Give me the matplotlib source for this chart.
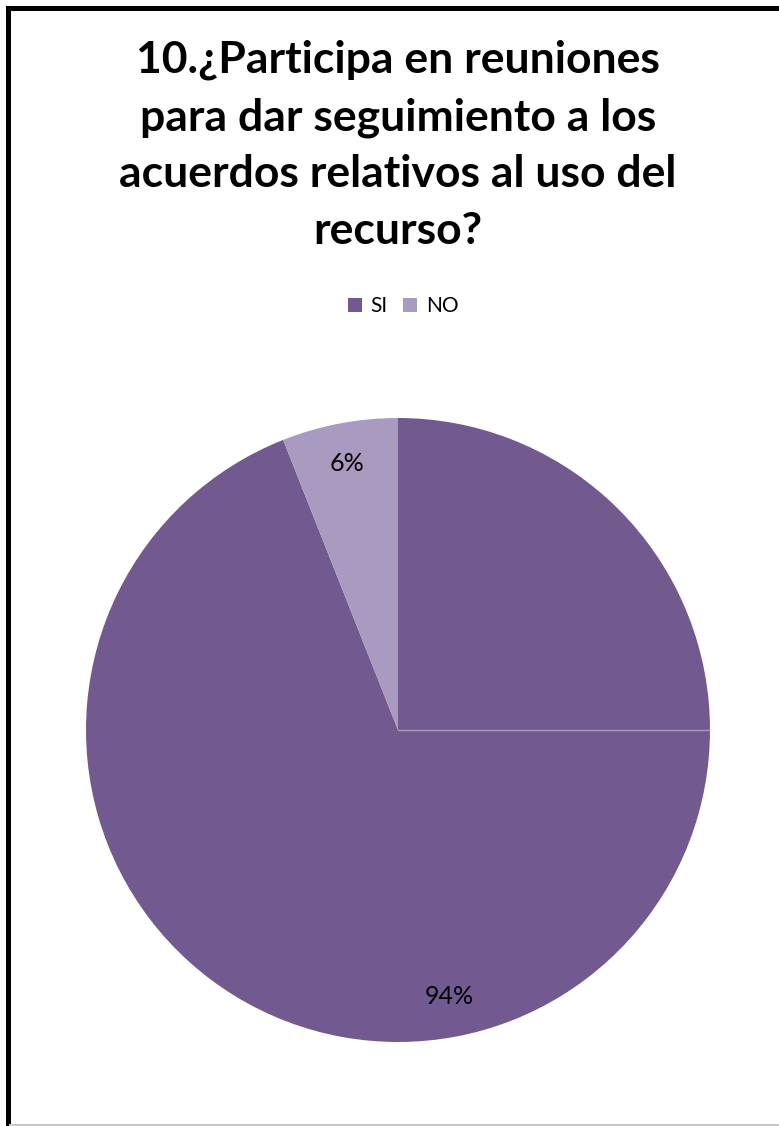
import matplotlib.pyplot as plt
from matplotlib.patches import Rectangle
from matplotlib.lines import Line2D

labels = ['SI', 'NO']
values = [94, 6]
colors = ['#725990', '#A99ABF']
title = '10.¿Participa en reuniones\npara dar seguimiento a los\nacuerdos relativos al uso del\nrecurso?'

plt.rcParams['font.family'] = ['Lato', 'DejaVu Sans']

fig = plt.figure(figsize=(7.79, 11.26), dpi=100)

# frame (right and bottom edges are cut off in the original)
fig.patches.append(Rectangle((7.5 / 779, -0.01), 1.05, (1126 - 7.5) / 1126 + 0.01,
                             transform=fig.transFigure, fill=False,
                             edgecolor='black', linewidth=3.6))
fig.add_artist(Line2D([10 / 779, 1], [1.5 / 1126, 1.5 / 1126], transform=fig.transFigure,
                      color='#c8c8c8', linewidth=1.5))

fig.text(398 / 779, 1 - 40 / 1126, title, ha='center', va='top', fontsize=32,
         fontweight='bold', linespacing=1.5)

ax = fig.add_axes([86 / 779, 1 - 1042 / 1126, 624 / 779, 624 / 1126])
wedges, texts, autotexts = ax.pie(values, colors=colors, startangle=90, counterclock=False,
                                  autopct='%1.0f%%', pctdistance=0.87,
                                  wedgeprops=dict(linewidth=0),
                                  textprops=dict(fontsize=18, color='black'))
ax.plot([0, 1], [0, 0], color='#A99ABF', linewidth=1)
ax.set_xlim(-1, 1)
ax.set_ylim(-1, 1)
ax.set_aspect('auto')
ax.axis('off')

fig.legend(wedges, labels, loc='center', bbox_to_anchor=(403 / 779, 1 - 306 / 1126),
           ncol=2, frameon=False, fontsize=15, handlelength=0.67, handleheight=0.67,
           handletextpad=0.43, columnspacing=0.72)

fig.savefig('out.png', dpi=100)
